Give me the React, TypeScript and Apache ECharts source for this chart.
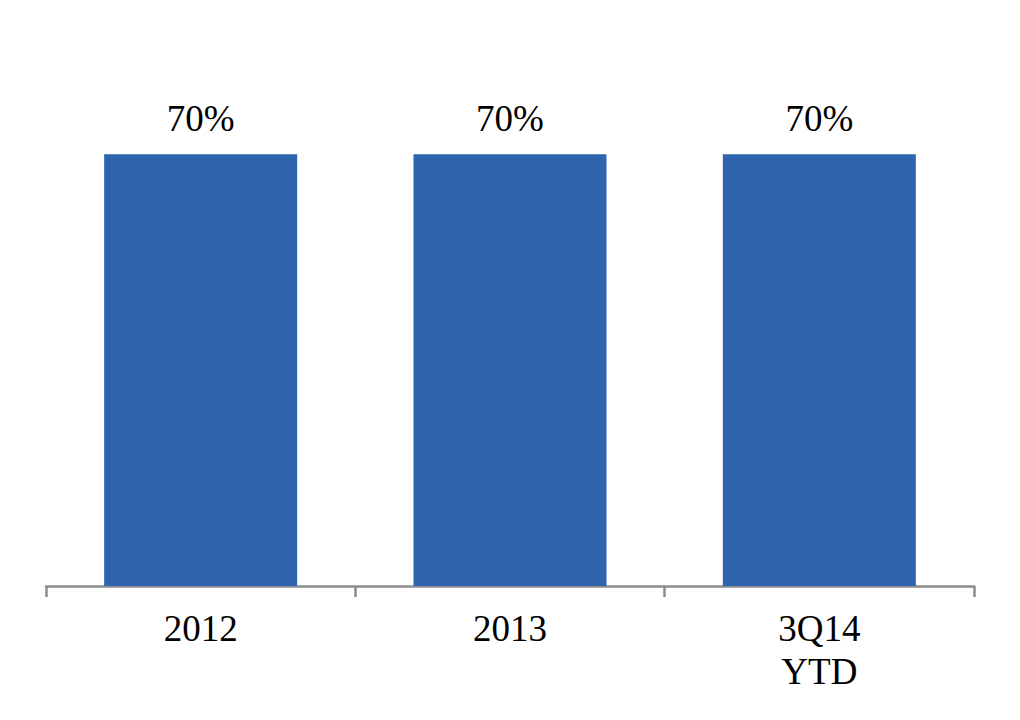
import React, { useEffect, useRef } from "react";
import * as echarts from "echarts";

const categories = ["2012", "2013", "3Q14\nYTD"];
const values = [70, 70, 70];

export default function App() {
  const ref = useRef<HTMLDivElement>(null);
  useEffect(() => {
    if (!ref.current) return;
    const chart = echarts.init(ref.current, null, { renderer: "svg" });
    const font = "Liberation Serif";
    chart.setOption({
      animation: false,
      backgroundColor: "#ffffff",
      textStyle: { fontFamily: font },
      grid: { left: 46, right: 46, bottom: 134, top: 585 - (431 * 80) / 70 },
      xAxis: {
        type: "category",
        data: categories,
        boundaryGap: true,
        axisLine: { show: true, lineStyle: { color: "#8c8c8c", width: 2.5 } },
        axisTick: { show: true, length: 11, lineStyle: { color: "#8c8c8c", width: 2.5 } },
        axisLabel: {
          color: "#000",
          fontFamily: font,
          fontSize: 37,
          lineHeight: 43,
          margin: 21,
        },
      },
      yAxis: {
        type: "value",
        min: 0,
        max: 80,
        show: false,
        splitLine: { show: false },
      },
      series: [
        {
          type: "bar",
          data: values,
          barCategoryGap: "37.6%",
          itemStyle: { color: "#2E65AE" },
          label: {
            show: true,
            position: "top",
            distance: 17,
            formatter: "{c}%",
            color: "#000",
            fontFamily: font,
            fontSize: 37,
          },
        },
      ],
    });
    return () => chart.dispose();
  }, []);
  return (
    <div
      ref={ref}
      style={{ position: "fixed", left: 0, top: 0, width: 1020, height: 720 }}
    />
  );
}
